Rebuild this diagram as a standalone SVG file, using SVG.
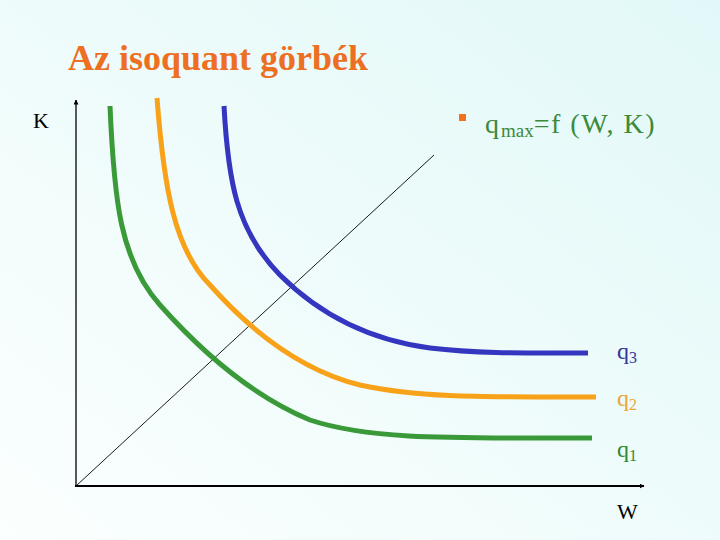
<svg xmlns="http://www.w3.org/2000/svg" width="720" height="540" viewBox="0 0 720 540">
<defs>
<linearGradient id="bg" x1="0" y1="1" x2="1" y2="0">
<stop offset="0" stop-color="#fbfffe"/>
<stop offset="1" stop-color="#e2f8f8"/>
</linearGradient>
<marker id="ah" viewBox="0 0 10 10" refX="9" refY="5" markerWidth="5" markerHeight="5" orient="auto" markerUnits="userSpaceOnUse">
<path d="M0,0 L10,5 L0,10 z" fill="#000"/>
</marker>
<style>
.curve{fill:none;stroke-width:5}
</style>
</defs>
<rect width="720" height="540" fill="url(#bg)"/>
<text x="68" y="70" font-family="Liberation Serif" font-size="36" font-weight="bold" fill="#ec6f22">Az isoquant görbék</text>
<g id="axes">
<line x1="76" y1="487" x2="76" y2="100" stroke="#000" stroke-width="1.3" marker-end="url(#ah)"/>
<line x1="75" y1="486" x2="644" y2="486" stroke="#000" stroke-width="2.2" marker-end="url(#ah)"/>
<line x1="76" y1="486" x2="434" y2="155" stroke="#000" stroke-width="0.9"/>
</g>
<g id="connectors">
<path id="q1curve" class="curve" stroke="#3a9a3a" d="M110,106 C114,200 120,260 160,305 C200,350 250,395 310,420 C370,440 450,438 592,438"/>
<path id="q2curve" class="curve" stroke="#f8a21a" d="M157,98 C164,190 175,250 210,285 C250,330 300,370 360,385 C420,398 480,397 596,397"/>
<path id="q3curve" class="curve" stroke="#3436c0" d="M224,106 C228,180 236,230 280,275 C320,315 370,340 430,348 C480,354 530,353 588,353"/>
</g>
<g id="labels" font-family="Liberation Serif" font-size="24">
<text x="33" y="128" font-size="22" fill="#000">K</text>
<text x="617" y="519" font-size="22" fill="#000">W</text>
<text x="617" y="359" fill="#35369a">q<tspan font-size="16" dy="4">3</tspan></text>
<text x="617" y="406" fill="#e9a738">q<tspan font-size="16" dy="4">2</tspan></text>
<text x="617" y="457" fill="#2f8a2f">q<tspan font-size="16" dy="4">1</tspan></text>
</g>
<g id="legend">
<rect x="459" y="114" width="7" height="7" fill="#f0731c"/>
<text x="485" y="133" font-family="Liberation Serif" font-size="28" fill="#3a8a3a">q<tspan font-size="19" dx="2" dy="4">max</tspan><tspan dy="-4" letter-spacing="1.5">=f (W, K)</tspan></text>
</g>
</svg>
